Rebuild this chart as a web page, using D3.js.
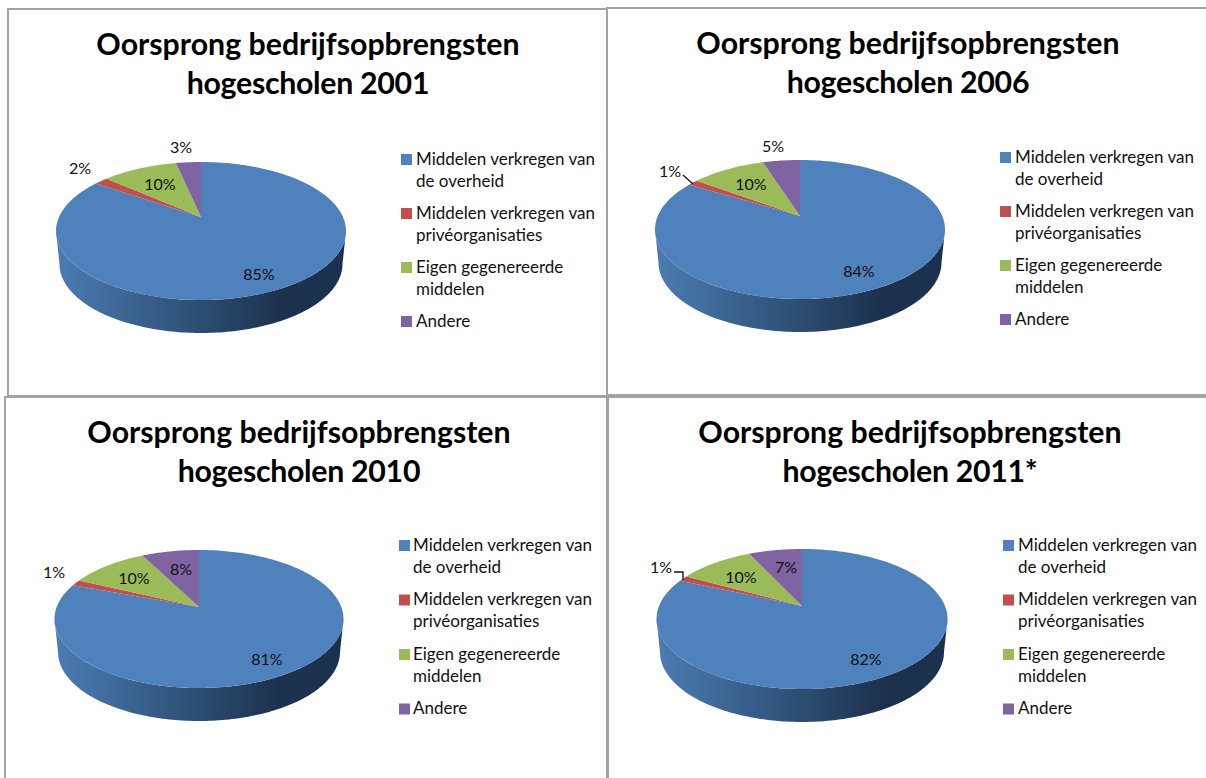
<!DOCTYPE html>
<html>
<head>
<meta charset="utf-8">
<script src="https://cdn.jsdelivr.net/npm/d3@7"></script>
<style>
  html, body { margin: 0; padding: 0; background: #fff; }
  text { font-family: Lato, "Open Sans", sans-serif; fill: #111; }
</style>
</head>
<body>
<div id="canvas"></div>
<script>
const years = ["2001", "2006", "2010", "2011*"];
const categories = ["Middelen verkregen van de overheid", "Middelen verkregen van privéorganisaties", "Eigen gegenereerde middelen", "Andere"];
const legendLines = [["Middelen verkregen van", "de overheid"], ["Middelen verkregen van", "privéorganisaties"], ["Eigen gegenereerde", "middelen"], ["Andere"]];
// slice sizes, the printed labels are these rounded
const values2001 = [84.5, 1.9, 10.2, 3.4];
const values2006 = [83.6, 1.4, 10, 5];
const values2010 = [80.6, 1.4, 10.4, 7.6];
const values2011 = [81.6, 1.3, 10, 7.1];
const colors = ["#4f81bd", "#c0504d", "#9bbb59", "#8064a2"];

// layout of the four panels: frame, pie apex, pie top/bottom, legend
const panels = [
    { values: values2001, frame: [8, 9, 599, 387], cx: 201, apex: 217, top: 162, bottom: 300, rx: 145, depth: 33, titleX: 308, titleY: 55, legX: 401, legY: 159, legGap: 54, legText: 15,
      labels: [[58, 57], [-121, -49], [-41, -33], [-20, -70]], leader: null },
    { values: values2006, frame: [607, 8, 620, 387], cx: 800, apex: 216, top: 160, bottom: 299, rx: 145, depth: 33, titleX: 908, titleY: 54, legX: 1000, legY: 157, legGap: 54, legText: 15,
      labels: [[59, 55], [-130, -45], [-49, -32], [-27, -70]], leader: [[-117, -41], [-107, -32]] },
    { values: values2010, frame: [5, 397, 602, 400], cx: 199, apex: 607, top: 550, bottom: 688, rx: 144.5, depth: 33, titleX: 299, titleY: 443, legX: 399, legY: 545, legGap: 54.5, legText: 14,
      labels: [[68, 52], [-145, -35], [-65, -29], [-18, -38]], leader: null },
    { values: values2011, frame: [608, 397, 620, 400], cx: 802, apex: 606, top: 549, bottom: 689, rx: 145.5, depth: 33, titleX: 910, titleY: 443, legX: 1003, legY: 545, legGap: 54.5, legText: 15,
      labels: [[64, 53], [-141, -39], [-61, -29], [-16, -39]], leader: [[-128, -34], [-119, -34], [-119, -26]] }
];

const svg = d3.select("#canvas").append("svg")
    .attr("width", 1206)
    .attr("height", 778)
    .style("display", "block");

const defs = svg.append("defs");
const grad = defs.append("linearGradient").attr("id", "wall");
grad.append("stop").attr("offset", "0%").attr("stop-color", "#4c7cb3");
grad.append("stop").attr("offset", "45%").attr("stop-color", "#2f5278");
grad.append("stop").attr("offset", "78%").attr("stop-color", "#1c314d");
grad.append("stop").attr("offset", "100%").attr("stop-color", "#1c314d");

const color = d3.scaleOrdinal().domain(categories).range(colors);
const pie = d3.pie().sort(null).value(d => d.value);
const line = d3.line();

// perspective: the pie is a circle seen from the front, so the apex sits above the centre of the ellipse
function projector(p) {
    const up = p.apex - p.top;
    const down = p.bottom - p.apex;
    const k = (down - up) / (down + up);
    const b = up * (1 + k);
    const a = p.rx * Math.sqrt(1 - k * k);
    const project = function (angle) {
        const u = Math.sin(angle);
        const v = -Math.cos(angle);
        const w = 1 - k * v;
        return [p.cx + a * u / w, p.apex + b * v / w];
    };
    project.edge = Math.acos(-k); // angle where the rim is widest
    return project;
}

function sampleAngles(a0, a1) {
    const n = Math.max(2, Math.ceil(Math.abs(a1 - a0) / 0.02));
    return d3.range(n + 1).map(i => a0 + (a1 - a0) * i / n);
}

panels.forEach((p, idx) => {
    const g = svg.append("g");
    const project = projector(p);

    g.append("rect")
        .attr("x", p.frame[0])
        .attr("y", p.frame[1])
        .attr("width", p.frame[2])
        .attr("height", p.frame[3])
        .attr("fill", "#fff")
        .attr("stroke", "#a3a3a3")
        .attr("stroke-width", 2);

    const title = g.append("g").attr("class", "title");
    ["Oorsprong bedrijfsopbrengsten", "hogescholen " + years[idx]].forEach((t, i) => {
        title.append("text")
            .attr("x", p.titleX)
            .attr("y", p.titleY + i * 39)
            .attr("text-anchor", "middle")
            .attr("font-size", 30.3)
            .attr("font-weight", 700)
            .attr("letter-spacing", i === 1 ? -0.3 : 0)
            .style("fill", "#000")
            .text(t);
    });

    // side wall, only the front part of the rim is visible
    const front = sampleAngles(Math.PI * 2 - project.edge, project.edge).map(project);
    const shrink = (p.rx - 3.5) / p.rx;
    const low = front.map(q => [p.cx + (q[0] - p.cx) * shrink, q[1] + p.depth]).reverse();
    g.append("path")
        .attr("d", line(front.concat(low)) + "Z")
        .attr("fill", "url(#wall)");

    const slices = pie(p.values.map((value, i) => ({ value: value, name: categories[i] })));
    g.selectAll("path.slice").data(slices).enter().append("path")
        .attr("class", "slice")
        .attr("d", d => line([[p.cx, p.apex]].concat(sampleAngles(d.startAngle, d.endAngle).map(project))) + "Z")
        .attr("fill", d => color(d.data.name));

    if (p.leader) {
        g.append("path")
            .attr("d", line(p.leader.map(q => [p.cx + q[0], p.apex + q[1]])))
            .attr("fill", "none")
            .attr("stroke", "#111")
            .attr("stroke-width", 1.3);
    }

    g.selectAll("text.value").data(slices).enter().append("text")
        .attr("class", "value")
        .attr("x", (d, i) => p.cx + p.labels[i][0])
        .attr("y", (d, i) => p.apex + p.labels[i][1])
        .attr("dy", "0.35em")
        .attr("text-anchor", "middle")
        .attr("font-size", 16)
        .text(d => Math.round(d.value) + "%");

    categories.forEach((name, i) => {
        const rowY = p.legY + i * p.legGap;
        g.append("rect")
            .attr("x", p.legX)
            .attr("y", rowY - 5)
            .attr("width", 11)
            .attr("height", 11)
            .attr("fill", color(name));
        legendLines[i].forEach((t, j) => {
            g.append("text")
                .attr("x", p.legX + p.legText)
                .attr("y", rowY + j * 22)
                .attr("dy", "0.35em")
                .attr("font-size", 17)
                .text(t);
        });
    });
});
</script>
</body>
</html>
